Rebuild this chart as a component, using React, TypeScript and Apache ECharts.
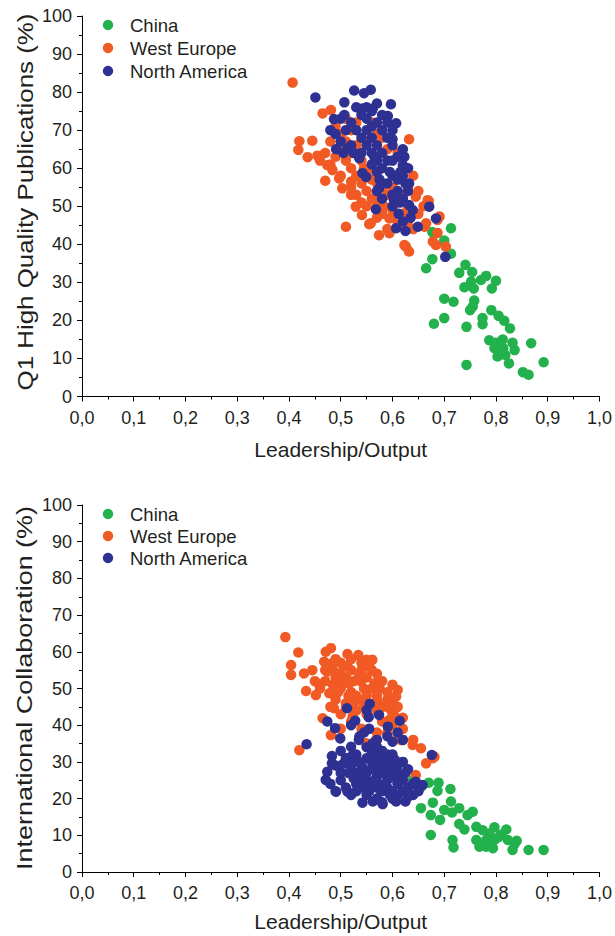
import React, { useEffect, useRef } from "react";
import * as echarts from "echarts";

const seriesNames = ["China", "West Europe", "North America"];
const colors = ["#22b14c", "#f15a24", "#2e3192"];
const xTickLabels = ["0,0", "0,1", "0,2", "0,3", "0,4", "0,5", "0,6", "0,7", "0,8", "0,9", "1,0"];
const yTitles = ["Q1 High Quality Publications (%)", "International Collaboration (%)"];
const xTitle = "Leadership/Output";

// Top panel: Leadership/Output vs Q1 high quality publications (%)
const chinaQ1: number[][] = [
  [0.713, 44.2], [0.677, 43.2], [0.7, 41.0], [0.713, 37.5], [0.677, 36.1], [0.665, 33.7], [0.741, 34.6],
  [0.729, 32.5], [0.754, 32.7], [0.781, 31.7], [0.8, 30.4], [0.771, 30.6], [0.752, 30.2], [0.739, 28.7],
  [0.757, 28.4], [0.792, 28.4], [0.7, 25.7], [0.718, 24.9], [0.758, 25.2], [0.755, 23.6], [0.75, 22.7],
  [0.791, 22.7], [0.7, 20.6], [0.68, 19.1], [0.774, 20.6], [0.774, 19.0], [0.805, 21.2], [0.816, 19.9],
  [0.827, 17.9], [0.743, 18.3], [0.787, 14.8], [0.8, 14.1], [0.813, 15.0], [0.832, 14.1], [0.868, 14.0],
  [0.797, 12.7], [0.814, 12.7], [0.836, 12.2], [0.803, 10.5], [0.818, 10.9], [0.825, 8.7], [0.743, 8.3],
  [0.852, 6.4], [0.863, 5.7], [0.892, 9.0], [0.81, 11.8],
];
const westEuropeQ1: number[][] = [
  [0.407, 82.5], [0.465, 74.4], [0.481, 75.3], [0.42, 67.1], [0.445, 67.2], [0.418, 64.8], [0.436, 62.9],
  [0.455, 63.3], [0.474, 60.8], [0.47, 56.7], [0.484, 59.5], [0.497, 57.3], [0.503, 54.7], [0.52, 56.5],
  [0.52, 53.0], [0.529, 49.9], [0.541, 47.7], [0.51, 44.6], [0.555, 45.3], [0.574, 42.4], [0.594, 42.9],
  [0.632, 67.6], [0.626, 39.4], [0.632, 38.1], [0.668, 51.6], [0.665, 45.5], [0.678, 40.7], [0.684, 39.8],
  [0.691, 47.3], [0.703, 39.4], [0.687, 43.0], [0.645, 52.5], [0.67, 51.4], [0.687, 46.4], [0.558, 45.5],
  [0.568, 52.1], [0.584, 49.9], [0.594, 46.8], [0.662, 44.6], [0.623, 39.8],
  [0.49, 71], [0.5, 69], [0.48, 67], [0.5, 66], [0.47, 64], [0.49, 63], [0.51, 62], [0.52, 60], [0.5, 58],
  [0.53, 58], [0.54, 56], [0.55, 54], [0.53, 53], [0.56, 52], [0.57, 50], [0.55, 50], [0.58, 48], [0.6, 47],
  [0.6, 49], [0.62, 48], [0.61, 51], [0.63, 50], [0.59, 53], [0.6, 55], [0.57, 56], [0.55, 58], [0.56, 60],
  [0.54, 62], [0.52, 64], [0.53, 66], [0.55, 67], [0.57, 69], [0.52, 70], [0.51, 73], [0.53, 72], [0.56, 72],
  [0.58, 68], [0.59, 65], [0.61, 64], [0.62, 60], [0.64, 58], [0.63, 55], [0.65, 54], [0.62, 53], [0.58, 55],
  [0.56, 57], [0.51, 67], [0.48, 61], [0.46, 62], [0.52, 55], [0.54, 51], [0.57, 47], [0.59, 44], [0.61, 45],
  [0.63, 46], [0.65, 48], [0.66, 50], [0.64, 44], [0.545, 60], [0.535, 63],
];
const northAmericaQ1: number[][] = [
  [0.451, 78.6], [0.526, 80.4], [0.545, 79.7], [0.558, 80.6], [0.507, 77.3], [0.597, 76.8], [0.542, 75.7],
  [0.562, 75.7], [0.487, 72.9], [0.507, 74.0], [0.591, 73.7], [0.607, 71.8], [0.6, 67.6], [0.491, 65.0],
  [0.513, 65.2], [0.536, 62.6], [0.623, 63.0], [0.62, 60.8], [0.542, 58.7], [0.549, 57.7], [0.632, 56.0],
  [0.574, 54.7], [0.603, 51.6], [0.632, 50.3], [0.639, 49.0], [0.568, 49.2], [0.612, 48.0], [0.671, 49.9],
  [0.684, 46.8], [0.607, 44.2], [0.625, 43.5], [0.649, 44.6], [0.702, 36.7],
  [0.55, 73], [0.56, 71], [0.57, 72], [0.55, 70], [0.54, 68], [0.56, 68], [0.58, 70], [0.57, 66], [0.55, 66],
  [0.59, 68], [0.58, 64], [0.56, 64], [0.54, 64], [0.52, 66], [0.5, 67], [0.53, 70], [0.52, 72], [0.51, 70],
  [0.5, 73], [0.54, 74], [0.56, 75], [0.58, 74], [0.6, 70], [0.59, 72], [0.6, 66], [0.61, 63], [0.59, 62],
  [0.57, 62], [0.58, 60], [0.6, 58], [0.61, 57], [0.59, 56], [0.61, 54], [0.62, 52], [0.6, 53], [0.56, 61],
  [0.57, 59], [0.62, 58], [0.63, 60], [0.6, 62], [0.62, 65], [0.55, 76], [0.57, 77], [0.53, 76], [0.49, 69],
  [0.48, 70], [0.505, 64], [0.525, 64], [0.565, 63], [0.575, 57], [0.595, 59], [0.615, 59], [0.625, 56],
  [0.63, 54], [0.6, 50], [0.615, 51], [0.62, 46], [0.635, 47], [0.58, 52], [0.57, 54],
];

// Bottom panel: Leadership/Output vs International collaboration (%)
const chinaIC: number[][] = [
  [0.639, 24.9], [0.655, 23.1], [0.67, 24.3], [0.689, 24.3], [0.687, 22.1], [0.712, 22.6], [0.655, 17.4],
  [0.678, 18.9], [0.674, 15.5], [0.7, 16.9], [0.713, 19.2], [0.715, 16.2], [0.729, 17.4], [0.692, 14.2],
  [0.745, 15.5], [0.755, 16.4], [0.729, 13.1], [0.739, 11.6], [0.762, 12.3], [0.774, 11.4], [0.797, 12.2],
  [0.787, 10.5], [0.762, 8.7], [0.716, 8.7], [0.674, 10.1], [0.718, 6.7], [0.768, 6.9], [0.794, 6.5],
  [0.823, 8.7], [0.836, 7.6], [0.832, 6.0], [0.863, 6.0], [0.781, 8.7], [0.797, 8.7], [0.781, 6.9],
  [0.81, 10.2], [0.805, 9.5], [0.82, 11.6], [0.84, 8.5], [0.892, 6.0],
];
const westEuropeIC: number[][] = [
  [0.393, 64.0], [0.418, 59.8], [0.404, 56.4], [0.404, 53.7], [0.429, 54.1], [0.445, 55.0], [0.471, 60.0],
  [0.481, 61.0], [0.513, 59.4], [0.534, 59.1], [0.55, 57.8], [0.468, 57.3], [0.484, 56.9], [0.513, 56.1],
  [0.474, 54.6], [0.5, 54.1], [0.433, 49.3], [0.458, 51.2], [0.452, 48.2], [0.478, 48.7], [0.494, 51.0],
  [0.516, 51.4], [0.539, 51.9], [0.565, 51.4], [0.568, 50.5], [0.61, 49.6], [0.607, 47.8], [0.51, 46.0],
  [0.539, 46.9], [0.571, 46.4], [0.465, 41.9], [0.481, 37.3], [0.487, 44.6], [0.523, 42.3], [0.594, 44.6],
  [0.594, 41.4], [0.61, 37.8], [0.62, 36.0], [0.42, 33.2], [0.639, 34.6], [0.655, 33.7], [0.665, 29.6],
  [0.681, 31.4], [0.645, 26.4], [0.561, 57.8], [0.549, 35.1], [0.568, 36.0], [0.603, 42.8], [0.616, 36.0],
  [0.678, 31.0],
  [0.47, 52], [0.49, 53], [0.51, 53], [0.52, 55], [0.54, 55], [0.55, 53], [0.56, 55], [0.57, 54], [0.58, 52],
  [0.5, 50], [0.52, 49], [0.53, 48], [0.55, 48], [0.57, 48], [0.59, 47], [0.6, 46], [0.49, 47], [0.51, 45],
  [0.53, 44], [0.55, 43], [0.57, 44], [0.58, 41], [0.6, 40], [0.62, 39], [0.5, 43], [0.52, 41], [0.48, 45],
  [0.46, 50], [0.45, 52], [0.5, 57], [0.52, 58], [0.54, 57], [0.56, 50], [0.58, 45], [0.6, 43], [0.61, 45],
  [0.62, 42], [0.64, 36], [0.59, 38], [0.57, 38], [0.54, 39], [0.5, 39], [0.49, 58], [0.47, 55],
  [0.485, 55], [0.505, 56], [0.525, 52], [0.545, 50], [0.535, 54], [0.555, 56], [0.515, 48], [0.495, 49],
  [0.575, 50], [0.59, 49], [0.6, 51], [0.565, 46], [0.545, 45], [0.525, 46], [0.505, 52], [0.485, 51],
];
const northAmericaIC: number[][] = [
  [0.434, 34.8], [0.512, 44.6], [0.556, 45.8], [0.574, 42.8], [0.55, 44.1], [0.528, 41.2], [0.554, 42.2],
  [0.614, 41.2], [0.474, 41.0], [0.489, 39.2], [0.499, 36.4], [0.545, 38.0], [0.591, 39.6], [0.6, 35.5],
  [0.536, 36.9], [0.562, 35.1], [0.676, 31.9], [0.52, 34.1], [0.52, 31.4], [0.483, 31.6], [0.483, 29.6],
  [0.474, 27.3], [0.471, 25.1], [0.491, 21.9], [0.513, 21.9], [0.542, 18.9], [0.562, 19.2], [0.581, 18.5],
  [0.607, 19.2], [0.625, 19.2], [0.61, 24.2], [0.645, 24.6], [0.658, 23.7],
  [0.52, 29], [0.53, 27], [0.54, 29], [0.55, 27], [0.56, 28], [0.57, 26], [0.58, 27], [0.59, 25], [0.6, 26],
  [0.61, 24], [0.62, 25], [0.55, 31], [0.56, 30], [0.57, 31], [0.58, 29], [0.59, 30], [0.6, 28], [0.61, 29],
  [0.53, 24], [0.54, 23], [0.55, 25], [0.56, 23], [0.57, 24], [0.58, 22], [0.59, 23], [0.6, 22], [0.61, 21],
  [0.62, 22], [0.63, 23], [0.64, 24], [0.5, 25], [0.51, 23], [0.52, 21], [0.53, 22], [0.55, 21], [0.57, 20],
  [0.58, 19], [0.6, 20], [0.56, 33], [0.57, 34], [0.58, 33], [0.59, 32], [0.6, 32], [0.62, 30], [0.63, 28],
  [0.64, 21], [0.65, 22], [0.54, 26], [0.5, 27], [0.49, 29], [0.51, 31], [0.53, 32], [0.55, 34], [0.57, 36],
  [0.59, 37], [0.61, 38], [0.62, 36], [0.535, 36], [0.555, 39], [0.52, 40], [0.5, 33], [0.48, 24], [0.49, 22],
  [0.545, 24.5], [0.565, 25], [0.575, 28], [0.585, 24], [0.595, 27.5], [0.565, 29.5], [0.545, 28],
  [0.535, 30], [0.555, 22], [0.575, 22.5], [0.595, 21], [0.615, 26.5], [0.605, 30.5], [0.625, 27],
  [0.585, 31], [0.565, 32], [0.525, 25.5], [0.515, 27], [0.505, 29.5], [0.63, 20.5],
];

const FONT = "'Liberation Sans', Arial, Helvetica, sans-serif";
const TEXT = "#231f20";

export default function App() {
  const ref = useRef<HTMLDivElement>(null);
  useEffect(() => {
    if (!ref.current) return;
    const chart = echarts.init(ref.current, undefined, { renderer: "svg" });
    const xFmt = (v: number) => xTickLabels[Math.round(v * 10)] ?? v.toFixed(1).replace(".", ",");
    const makeX = (gi: number, gap: number) => ({
      gridIndex: gi,
      type: "value",
      min: 0,
      max: 1,
      interval: 0.1,
      name: xTitle,
      nameLocation: "middle",
      nameGap: gap,
      nameTextStyle: { fontSize: 21, color: TEXT, fontFamily: FONT },
      axisLine: { onZero: false, lineStyle: { color: "#000", width: 1 } },
      axisTick: { length: 5, lineStyle: { color: "#000" } },
      minorTick: { show: true, splitNumber: 2, length: 3, lineStyle: { color: "#000" } },
      splitLine: { show: false },
      minorSplitLine: { show: false },
      axisLabel: { formatter: xFmt, fontSize: 18, color: TEXT, fontFamily: FONT, margin: 12 },
    });
    const makeY = (gi: number) => ({
      gridIndex: gi,
      type: "value",
      min: 0,
      max: 100,
      interval: 10,
      axisLine: { onZero: false, lineStyle: { color: "#000", width: 1 } },
      axisTick: { length: 5, lineStyle: { color: "#000" } },
      minorTick: { show: true, splitNumber: 2, length: 3, lineStyle: { color: "#000" } },
      splitLine: { show: false },
      minorSplitLine: { show: false },
      axisLabel: { fontSize: 18, color: TEXT, fontFamily: FONT, margin: 10 },
    });
    const panels = [
      [chinaQ1, westEuropeQ1, northAmericaQ1],
      [chinaIC, westEuropeIC, northAmericaIC],
    ];
    const series: any[] = [];
    panels.forEach((p, gi) => {
      p.forEach((data, si) => {
        series.push({
          type: "scatter",
          name: seriesNames[si],
          xAxisIndex: gi,
          yAxisIndex: gi,
          data,
          symbol: "circle",
          symbolSize: 10.5,
          itemStyle: { color: colors[si], opacity: 1 },
          emphasis: { disabled: true },
        });
      });
    });
    const legendTops = [[25, 48, 71], [514, 536, 558]];
    const graphic: any[] = [];
    legendTops.forEach((rows) => {
      rows.forEach((y, i) => {
        graphic.push({
          type: "circle",
          shape: { cx: 108, cy: y, r: 5.2 },
          style: { fill: colors[i] },
        });
        graphic.push({
          type: "text",
          x: 130,
          y,
          style: {
            text: seriesNames[i],
            fontSize: 18.5,
            fontFamily: FONT,
            fill: TEXT,
            verticalAlign: "middle",
            align: "left",
          },
        });
      });
    });
    const yTitlePos = [
      { y: 202, s: 1.21 },
      { y: 688, s: 1.26 },
    ];
    yTitlePos.forEach((p, i) => {
      graphic.push({
        type: "text",
        x: 25,
        y: p.y,
        rotation: Math.PI / 2,
        scaleX: p.s,
        style: {
          text: yTitles[i],
          fontSize: 21.4,
          fontFamily: FONT,
          fill: TEXT,
          align: "center",
          verticalAlign: "middle",
        },
      });
    });
    chart.setOption({
      animation: false,
      grid: [
        { left: 82, top: 16, width: 518, height: 380.5 },
        { left: 82, top: 505, width: 518, height: 367 },
      ],
      xAxis: [makeX(0, 42), makeX(1, 39)],
      yAxis: [makeY(0), makeY(1)],
      series,
      graphic,
    });
    return () => chart.dispose();
  }, []);
  return (
    <div
      ref={ref}
      style={{ position: "absolute", left: 0, top: 0, width: 615, height: 936, background: "#fff" }}
    />
  );
}
